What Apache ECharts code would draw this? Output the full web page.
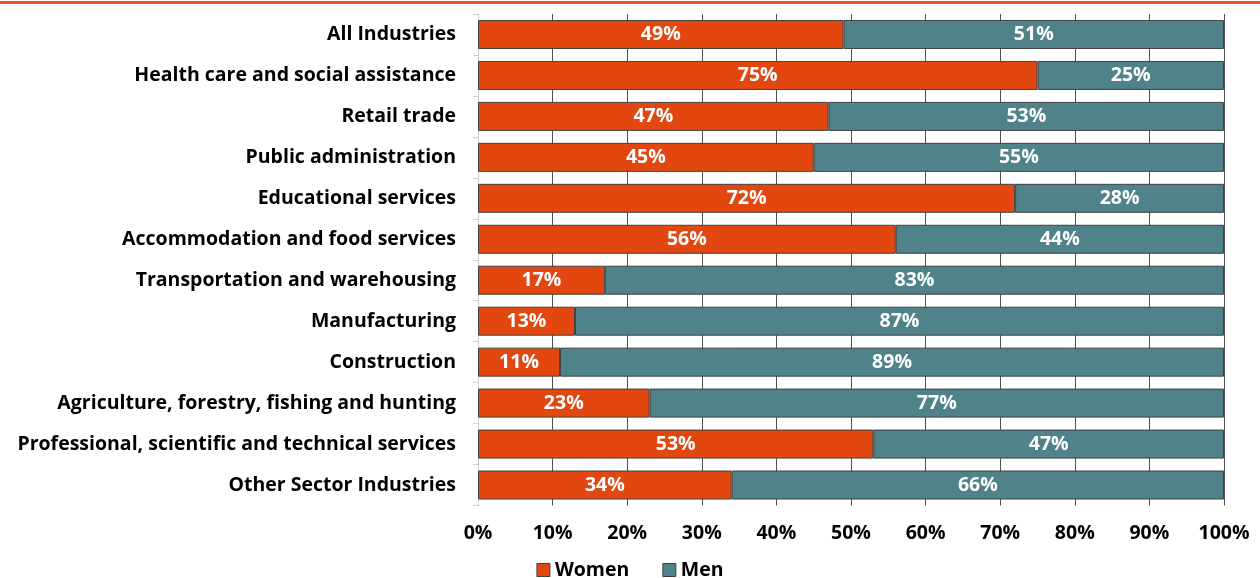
<!DOCTYPE html>
<html>
<head>
<meta charset="utf-8">
<script src="https://cdn.jsdelivr.net/npm/echarts@6/dist/echarts.min.js"></script>
<style>
  html, body { margin: 0; padding: 0; background: #ffffff; }
  #chart { width: 1260px; height: 578px; }
</style>
</head>
<body>
<div id="chart"></div>
<script>
// Industries, listed top to bottom
const industries = [
  'All Industries',
  'Health care and social assistance',
  'Retail trade',
  'Public administration',
  'Educational services',
  'Accommodation and food services',
  'Transportation and warehousing',
  'Manufacturing',
  'Construction',
  'Agriculture, forestry, fishing and hunting',
  'Professional, scientific and technical services',
  'Other Sector Industries'
];
// Share of workers (%)
const women = [49, 75, 47, 45, 72, 56, 17, 13, 11, 23, 53, 34];
const men   = [51, 25, 53, 55, 28, 44, 83, 87, 89, 77, 47, 66];
const xTicks = [0, 10, 20, 30, 40, 50, 60, 70, 80, 90, 100];

const FONT = '"Open Sans", "Noto Sans", sans-serif';
const chart = echarts.init(document.getElementById('chart'), null, { renderer: 'canvas' });

const labelStyle = {
  show: true,
  position: 'inside',
  color: '#ffffff',
  fontFamily: FONT,
  fontWeight: 'bold',
  fontSize: 19.5,
  formatter: p => p.value + '%'
};

chart.setOption({
  animation: false,
  backgroundColor: '#ffffff',
  textStyle: { fontFamily: FONT },
  graphic: [{
    type: 'rect',
    shape: { x: 0, y: 1, width: 1260, height: 3 },
    style: { fill: '#E8562A' },
    silent: true
  }],
  grid: { left: 478, right: 36, top: 14, bottom: 72.5, containLabel: false },
  legend: {
    top: 555,
    left: 'center',
    itemWidth: 13,
    itemHeight: 13,
    itemGap: 33,
    icon: 'rect',
    textStyle: { fontFamily: FONT, fontWeight: 'bold', fontSize: 19.5, color: '#000000' },
    itemStyle: { borderColor: '#404040', borderWidth: 1 },
    data: ['Women', 'Men']
  },
  xAxis: {
    type: 'value',
    min: 0,
    max: 100,
    interval: 10,
    axisLine: { show: false },
    axisTick: { show: false },
    axisLabel: {
      margin: 18,
      fontFamily: FONT,
      fontWeight: 'bold',
      fontSize: 19.5,
      color: '#000000',
      formatter: v => xTicks.includes(v) ? v + '%' : ''
    },
    splitLine: { show: true, lineStyle: { color: '#505050', width: 1 } }
  },
  yAxis: {
    type: 'category',
    inverse: true,
    data: industries,
    axisLine: { show: true, lineStyle: { color: '#d0d0d0', width: 1 } },
    axisTick: { show: true, length: 5, lineStyle: { color: '#d0d0d0' } },
    axisLabel: {
      margin: 22,
      fontFamily: FONT,
      fontWeight: 'bold',
      fontSize: 19.5,
      color: '#000000'
    }
  },
  series: [
    {
      name: 'Women',
      type: 'bar',
      stack: 'share',
      data: women,
      barWidth: 29,
      itemStyle: { color: '#E2470F', borderColor: '#404040', borderWidth: 1 },
      label: labelStyle
    },
    {
      name: 'Men',
      type: 'bar',
      stack: 'share',
      data: men,
      barWidth: 29,
      itemStyle: { color: '#4F8289', borderColor: '#404040', borderWidth: 1 },
      label: labelStyle
    }
  ]
});
</script>
</body>
</html>
